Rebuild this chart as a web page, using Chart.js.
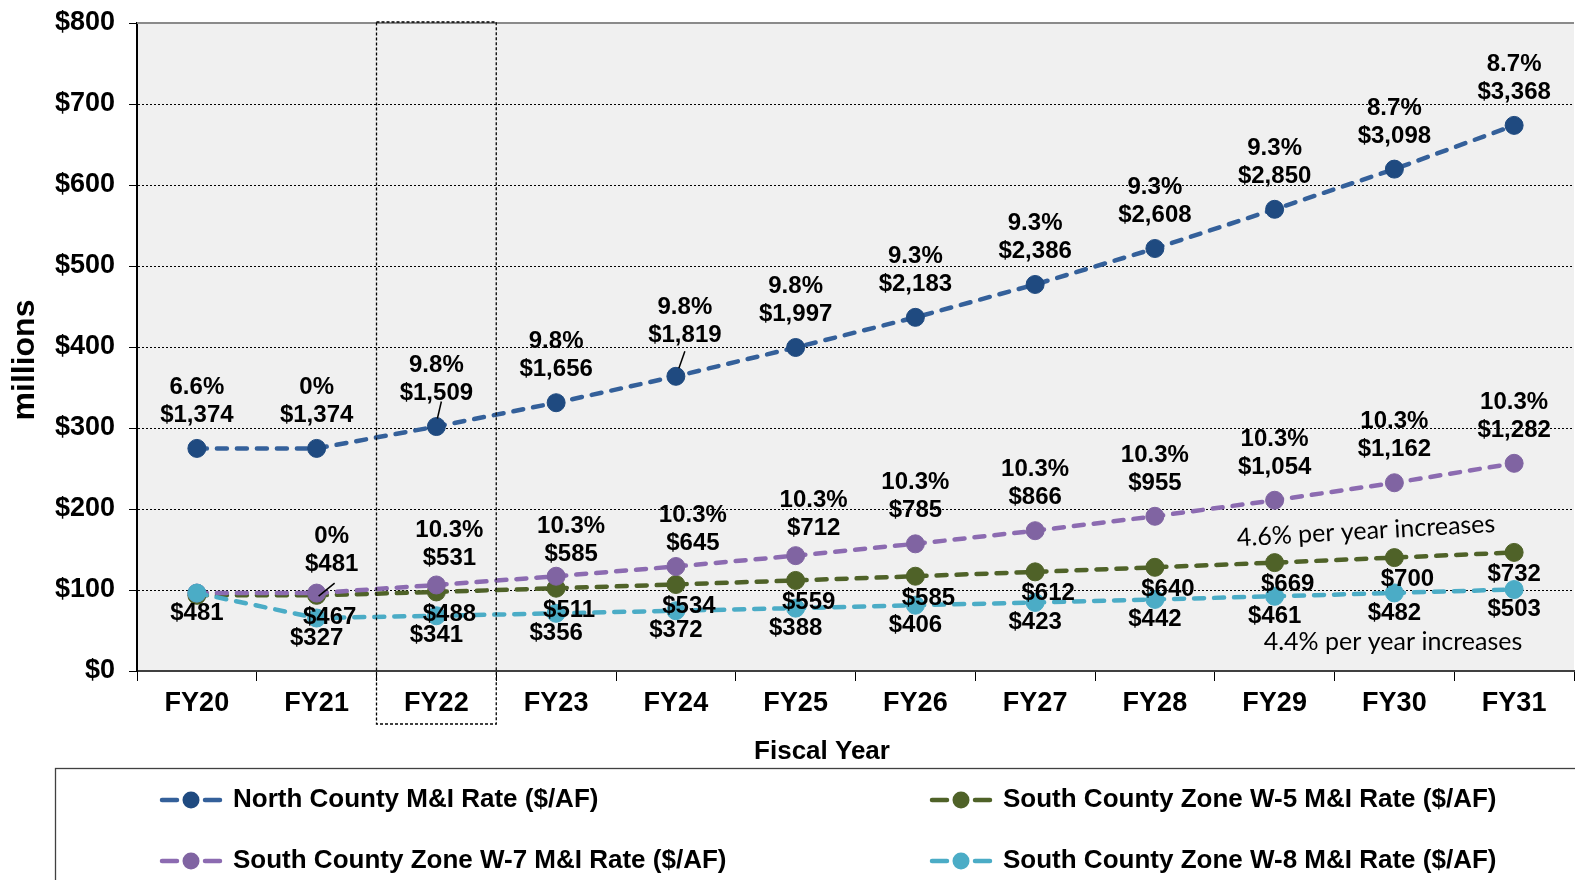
<!DOCTYPE html>
<html>
<head>
<meta charset="utf-8">
<script src="https://cdn.jsdelivr.net/npm/chart.js@4.4.0/dist/chart.umd.min.js"></script>
<style>
  html, body { margin: 0; padding: 0; background: #ffffff; }
</style>
</head>
<body>
<canvas id="rateChart" width="1575" height="880"></canvas>
<script>
// fiscal years on the x axis
const years = ['FY20', 'FY21', 'FY22', 'FY23', 'FY24', 'FY25', 'FY26', 'FY27', 'FY28', 'FY29', 'FY30', 'FY31'];

// rates in $/AF (as labelled on the chart)
const northRate = [1374, 1374, 1509, 1656, 1819, 1997, 2183, 2386, 2608, 2850, 3098, 3368];
const northPct  = ['6.6%', '0%', '9.8%', '9.8%', '9.8%', '9.8%', '9.3%', '9.3%', '9.3%', '9.3%', '8.7%', '8.7%'];
const w5Rate    = [467, 467, 488, 511, 534, 559, 585, 612, 640, 669, 700, 732];
const w7Rate    = [481, 481, 531, 585, 645, 712, 785, 866, 955, 1054, 1162, 1282];
const w7Pct     = [null, '0%', '10.3%', '10.3%', '10.3%', '10.3%', '10.3%', '10.3%', '10.3%', '10.3%', '10.3%', '10.3%'];
const w8Rate    = [481, 327, 341, 356, 372, 388, 406, 423, 442, 461, 482, 503];

// y axis tick labels ($0 .. $800 millions)
const yTickLabels = ['$0', '$100', '$200', '$300', '$400', '$500', '$600', '$700', '$800'];

const seriesNames = [
  'North County M&I Rate ($/AF)',
  'South County Zone W-5 M&I Rate ($/AF)',
  'South County Zone W-7 M&I Rate ($/AF)',
  'South County Zone W-8 M&I Rate ($/AF)'
];

const FONT = "'Liberation Sans', Arial, sans-serif";
const money = v => '$' + v.toLocaleString('en-US');

// label placement for each series (dx/dy from the point, per-point tweaks)
const labelCfg = [
  { ds: 0, text: i => [northPct[i], money(northRate[i])], dx: 0, dy: -61,
    tweak: { 2: { leader: [5, -25, 1, -8] }, 4: { dx: 9, dy: -69, leader: [9, -25, 3, -8] } } },
  { ds: 1, text: i => i === 0 ? null : [money(w5Rate[i])], dx: 13, dy: 22,
    tweak: { 11: { dx: 0 } } },
  { ds: 2, text: i => w7Pct[i] ? [w7Pct[i], money(w7Rate[i])] : null, dx: 0, dy: -61,
    tweak: { 1: { dx: 15, dy: -57, leader: [18, -10, 2, 3] }, 2: { dx: 13, dy: -55 }, 3: { dx: 15, dy: -50 },
             4: { dx: 17, dy: -51 }, 5: { dx: 18, dy: -55 } } },
  { ds: 3, text: i => [money(w8Rate[i])], dx: 0, dy: 20, tweak: {} }
];

const extras = {
  id: 'extras',
  beforeDraw(chart) {
    const { ctx, chartArea: a } = chart;
    ctx.save();
    ctx.fillStyle = '#F0F0F0';
    ctx.fillRect(a.left, a.top, a.right - a.left, a.bottom - a.top);
    ctx.restore();
  },
  afterDatasetsDraw(chart) {
    const ctx = chart.ctx;
    ctx.save();
    ctx.font = 'bold 24px ' + FONT;
    ctx.fillStyle = '#000';
    ctx.textAlign = 'center';
    ctx.textBaseline = 'middle';
    labelCfg.forEach(cfg => {
      const pts = chart.getDatasetMeta(cfg.ds).data;
      pts.forEach((p, i) => {
        const lines = cfg.text(i);
        if (!lines) return;
        const t = cfg.tweak[i] || {};
        const dx = t.dx !== undefined ? t.dx : cfg.dx;
        const dy = t.dy !== undefined ? t.dy : cfg.dy;
        lines.forEach((s, k) => ctx.fillText(s, p.x + dx, p.y + dy + k * 28));
        if (t.leader) {
          const l = t.leader;
          ctx.beginPath();
          ctx.lineWidth = 1.5;
          ctx.strokeStyle = '#000';
          ctx.moveTo(p.x + l[0], p.y + l[1]);
          ctx.lineTo(p.x + l[2], p.y + l[3]);
          ctx.stroke();
        }
      });
    });
    ctx.restore();
  },
  afterDraw(chart) {
    const { ctx, chartArea: a } = chart;
    const x = chart.scales.x;
    ctx.save();

    // top border of plot
    ctx.strokeStyle = '#8a8a8a';
    ctx.lineWidth = 2;
    ctx.beginPath();
    ctx.moveTo(a.left, a.top);
    ctx.lineTo(a.right, a.top);
    ctx.stroke();

    // dashed box around FY22
    const half = (x.right - x.left) / years.length / 2;
    const cx = x.getPixelForValue(2);
    ctx.strokeStyle = '#000';
    ctx.lineWidth = 1.3;
    ctx.setLineDash([3, 2]);
    ctx.strokeRect(cx - half, a.top - 1, half * 2, 724 - a.top + 1);
    ctx.setLineDash([]);

    // axis titles
    ctx.fillStyle = '#000';
    ctx.textAlign = 'center';
    ctx.textBaseline = 'middle';
    ctx.font = 'bold 26px ' + FONT;
    ctx.fillText('Fiscal Year', 822, 752);
    ctx.save();
    ctx.translate(25, 360);
    ctx.rotate(-Math.PI / 2);
    ctx.font = 'bold 32px ' + FONT;
    ctx.fillText('millions', 0, 0);
    ctx.restore();

    // notes on the W-5 / W-8 lines
    ctx.font = '25px Lato, ' + FONT;
    ctx.save();
    ctx.translate(1366, 531);
    ctx.rotate(-3.2 * Math.PI / 180);
    ctx.fillText('4.6% per year increases', 0, 0);
    ctx.restore();
    ctx.fillText('4.4% per year increases', 1393, 642);

    // legend box
    ctx.strokeStyle = '#404040';
    ctx.lineWidth = 1.3;
    ctx.strokeRect(55.5, 768.5, 1600, 200);
    const spots = [[160, 800], [930, 800], [160, 861], [930, 861]];
    ctx.textAlign = 'left';
    ctx.font = 'bold 26px ' + FONT;
    chart.data.datasets.forEach((d, i) => {
      const [lx, ly] = spots[i];
      ctx.strokeStyle = d.borderColor;
      ctx.lineWidth = 4.5;
      ctx.lineCap = 'round';
      ctx.beginPath();
      ctx.moveTo(lx + 2, ly); ctx.lineTo(lx + 17, ly);
      ctx.moveTo(lx + 45, ly); ctx.lineTo(lx + 60, ly);
      ctx.stroke();
      ctx.fillStyle = d.pointBackgroundColor;
      ctx.beginPath();
      ctx.arc(lx + 31, ly, 8.5, 0, Math.PI * 2);
      ctx.fill();
      ctx.fillStyle = '#000';
      ctx.fillText(d.label, lx + 73, ly);
    });
    ctx.restore();
  }
};

function lineSet(label, data, line, point, order) {
  return {
    label: label,
    data: data,
    order: order,
    borderColor: line,
    borderWidth: 4.5,
    borderDash: [10, 10],
    borderCapStyle: 'round',
    pointBackgroundColor: point,
    pointBorderColor: point,
    pointBorderWidth: 1,
    pointRadius: 9,
    tension: 0,
    fill: false
  };
}

const ctx = document.getElementById('rateChart').getContext('2d');

const rateChart = new Chart(ctx, {
  type: 'line',
  data: {
    labels: years,
    datasets: [
      lineSet(seriesNames[0], northRate, '#34609A', '#1F4A80', 3),
      lineSet(seriesNames[1], w5Rate, '#4F6228', '#4F6228', 2),
      lineSet(seriesNames[2], w7Rate, '#8C6BB1', '#8064A2', 1),
      lineSet(seriesNames[3], w8Rate, '#4BACC6', '#4BACC6', 0)
    ]
  },
  options: {
    responsive: false,
    animation: false,
    events: [],
    layout: { autoPadding: false, padding: { left: 0, right: 1, top: 23, bottom: 109 } },
    plugins: {
      legend: { display: false },
      tooltip: { enabled: false },
      title: { display: false }
    },
    scales: {
      x: {
        offset: true,
        grid: { offset: true, drawOnChartArea: false, drawTicks: true, tickLength: 10, color: '#000' },
        border: { color: '#404040', width: 2 },
        ticks: { color: '#000', padding: 6, maxRotation: 0, font: { family: FONT, size: 27, weight: 'bold' } },
        afterFit: s => { s.height = 100; s.paddingLeft = 0; s.paddingRight = 0; }
      },
      y: {
        min: 0,
        max: 4000,
        ticks: {
          stepSize: 500,
          color: '#000',
          padding: 14,
          font: { family: FONT, size: 27, weight: 'bold' },
          callback: (v, i) => yTickLabels[i]
        },
        grid: { color: '#000', lineWidth: 1, tickLength: 8 },
        border: { color: '#000', width: 2, dash: [2, 2] },
        afterFit: s => { s.width = 137; s.paddingTop = 0; s.paddingBottom = 0; }
      }
    }
  },
  plugins: [extras]
});
</script>
</body>
</html>
